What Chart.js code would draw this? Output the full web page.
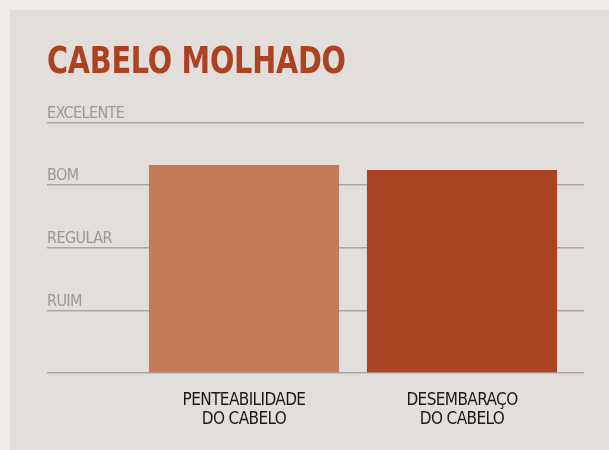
<!DOCTYPE html>
<html>
<head>
<meta charset="utf-8">
<script src="https://cdn.jsdelivr.net/npm/chart.js@4/dist/chart.umd.min.js"></script>
<style>
  html, body { margin: 0; padding: 0; background: #eeebe8; width: 609px; height: 450px; overflow: hidden; }
  #wrap { position: absolute; left: 10px; top: 10px; width: 599px; height: 440px; background: #e2dedb; }
  #title { position: absolute; left: 37px; top: 28px; margin: 0; font-family: 'DejaVu Sans Condensed', 'DejaVu Sans', sans-serif;
           font-weight: bold; font-size: 38px; line-height: 44px; color: #ab4323; white-space: nowrap;
           transform: scaleX(0.84); transform-origin: 0 0; letter-spacing: -0.3px; }
  canvas { display: block; position: absolute; left: 0; top: 0; }
</style>
</head>
<body>
<div id="wrap"><canvas id="c" width="599" height="440"></canvas><h1 id="title"></h1></div>
<script>
const titleText = 'CABELO MOLHADO';
const categories = [['PENTEABILIDADE', 'DO CABELO'], ['DESEMBARAÇO', 'DO CABELO']];
const values = [3.32, 3.24];
const barColors = ['#c47959', '#a94323'];
const yTickLabels = ['', 'RUIM', 'REGULAR', 'BOM', 'EXCELENTE'];

document.getElementById('title').textContent = titleText;

const FONT = "'DejaVu Sans Condensed', 'DejaVu Sans', sans-serif";
const gridColor = '#a9a6a3';

const tightText = {
  id: 'tightText',
  beforeDraw(chart) { chart.ctx.letterSpacing = '-0.6px'; }
};

new Chart(document.getElementById('c'), {
  type: 'bar',
  data: {
    labels: categories,
    datasets: [{
      data: values,
      backgroundColor: barColors,
      borderWidth: 0,
      barPercentage: 0.872,
      categoryPercentage: 1
    }]
  },
  plugins: [tightText],
  options: {
    responsive: false,
    animation: false,
    layout: { padding: { left: 37, right: 25, top: 112.5, bottom: 0 } },
    plugins: {
      legend: { display: false },
      tooltip: { enabled: false },
      title: { display: false }
    },
    scales: {
      x: {
        grid: { display: false },
        border: { display: false },
        ticks: {
          color: '#1a1a1a',
          font: { family: FONT, size: 17, lineHeight: 1.12 },
          padding: 10,
          maxRotation: 0,
          autoSkip: false
        },
        afterFit: (s) => { s.height = 77; }
      },
      y: {
        min: 0, max: 4,
        border: { display: false },
        grid: { color: gridColor, lineWidth: 1.5, tickLength: 88, tickColor: gridColor, drawTicks: true },
        ticks: {
          stepSize: 1,
          color: '#9b9896',
          font: { family: FONT, size: 16 },
          crossAlign: 'far',
          padding: 0,
          labelOffset: -9,
          callback: (v) => yTickLabels[v] || ''
        },
        afterFit: (s) => { s.width = 88; }
      },
      y2: {
        position: 'right',
        min: 0, max: 4,
        border: { display: false },
        grid: { color: gridColor, lineWidth: 1.5, tickLength: 13, tickColor: gridColor, drawTicks: true, drawOnChartArea: false },
        ticks: { stepSize: 1, display: false },
        afterFit: (s) => { s.width = 13; }
      }
    }
  }
});
</script>
</body>
</html>
